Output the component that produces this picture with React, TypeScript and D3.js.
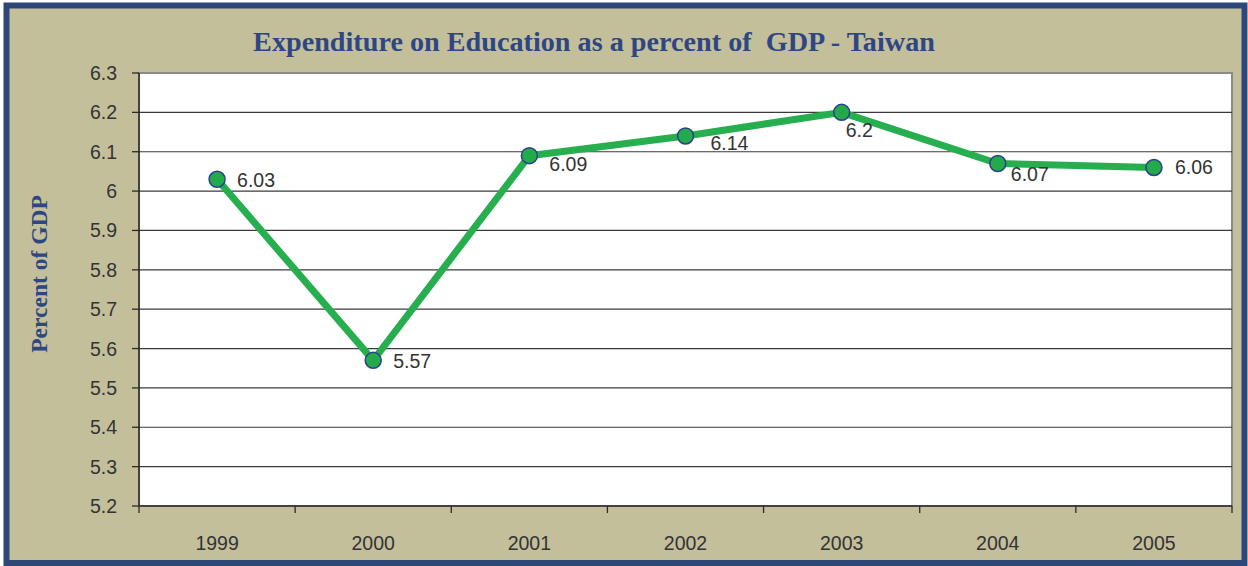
import React from "react";
import * as d3 from "d3";

const years = ["1999", "2000", "2001", "2002", "2003", "2004", "2005"];
const values = [6.03, 5.57, 6.09, 6.14, 6.2, 6.07, 6.06];
const yTicks = [5.2, 5.3, 5.4, 5.5, 5.6, 5.7, 5.8, 5.9, 6, 6.1, 6.2, 6.3];
const labelText = ["6.03", "5.57", "6.09", "6.14", "6.2", "6.07", "6.06"];
// label offsets (dx, dy) relative to each point, as in the original
const labelDx = [20, 20, 20, 25, 4, 13, 21];
const labelDy = [1, 1, 8, 7, 18, 10, 0];

const W = 1248;
const H = 566;
const plot = { left: 139, right: 1232, top: 73, bottom: 506 };

export default function App() {
  const x = d3.scaleBand<string>().domain(years).range([plot.left, plot.right]).padding(0);
  const y = d3.scaleLinear().domain([5.2, 6.3]).range([plot.bottom, plot.top]);
  const cx = (d: string) => (x(d) ?? 0) + x.bandwidth() / 2;
  const line = d3
    .line<number>()
    .x((_, i) => cx(years[i]))
    .y((v) => y(v));
  const boundaries = years.map((d) => x(d) ?? 0).concat([plot.right]);
  const tickFont = "'Liberation Sans', Arial, sans-serif";

  return (
    <svg
      width={W}
      height={H}
      style={{ position: "absolute", left: 0, top: 0, display: "block" }}
    >
      <rect x={0} y={0} width={W} height={H} fill="#ffffff" />
      <rect x={6.5} y={5.5} width={W - 10} height={H - 8.5} fill="#c3bf9b" stroke="#2d4779" strokeWidth={6} />
      <text
        x={594}
        y={50.5}
        textAnchor="middle"
        fontFamily="'Liberation Serif', 'Times New Roman', serif"
        fontWeight="bold"
        fontSize={28.2}
        fill="#2e4784"
        style={{ whiteSpace: "pre" }}
      >
        {"Expenditure on Education as a percent of  GDP - Taiwan"}
      </text>
      <text
        transform={`translate(47,274) rotate(-90)`}
        textAnchor="middle"
        fontFamily="'Liberation Serif', 'Times New Roman', serif"
        fontWeight="bold"
        fontSize={23.5}
        fill="#2e4784"
      >
        Percent of GDP
      </text>
      <rect x={plot.left} y={plot.top} width={plot.right - plot.left} height={plot.bottom - plot.top} fill="#ffffff" stroke="#8a8a8a" strokeWidth={2} />
      {yTicks.map((t) => (
        <g key={t}>
          {t > 5.2 && t < 6.3 && (
            <line x1={plot.left} x2={plot.right} y1={y(t)} y2={y(t)} stroke="#3a3a3a" strokeWidth={1.2} />
          )}
          <line x1={plot.left - 7} x2={plot.left} y1={y(t)} y2={y(t)} stroke="#2a2a2a" strokeWidth={1.3} />
          <text
            x={117}
            y={y(t)}
            dy="0.36em"
            textAnchor="end"
            fontFamily={tickFont}
            fontSize={19.5}
            fill="#333"
          >
            {String(t)}
          </text>
        </g>
      ))}
      <line x1={plot.left} x2={plot.left} y1={plot.top} y2={plot.bottom} stroke="#2a2a2a" strokeWidth={1.5} />
      <line x1={plot.left} x2={plot.right} y1={plot.bottom} y2={plot.bottom} stroke="#2a2a2a" strokeWidth={1.5} />
      {boundaries.map((b, i) => (
        <line key={i} x1={b} x2={b} y1={plot.bottom} y2={plot.bottom + 7} stroke="#2a2a2a" strokeWidth={1.3} />
      ))}
      {years.map((d) => (
        <text
          key={d}
          x={cx(d)}
          y={543}
          dy="0.36em"
          textAnchor="middle"
          fontFamily={tickFont}
          fontSize={19.5}
          fill="#333"
        >
          {d}
        </text>
      ))}
      <path d={line(values) ?? ""} fill="none" stroke="#27ae4f" strokeWidth={7} strokeLinejoin="round" />
      {values.map((v, i) => (
        <circle key={i} cx={cx(years[i])} cy={y(v)} r={8} fill="#22aa4b" stroke="#2e3f8f" strokeWidth={1.5} />
      ))}
      {values.map((v, i) => (
        <text
          key={"l" + i}
          x={cx(years[i]) + labelDx[i]}
          y={y(v) + labelDy[i]}
          dy="0.36em"
          fontFamily={tickFont}
          fontSize={19.5}
          fill="#333"
        >
          {labelText[i]}
        </text>
      ))}
    </svg>
  );
}
